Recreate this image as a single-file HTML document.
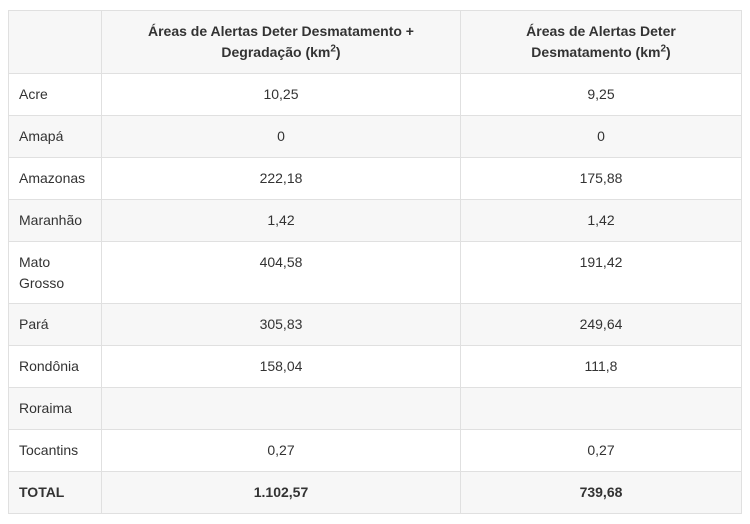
<!DOCTYPE html>
<html><head><meta charset="utf-8"><style>
html,body{margin:0;padding:0;background:#fff;width:750px;height:524px;overflow:hidden}
table{position:absolute;left:8px;top:10px;border-collapse:collapse;font-family:"Liberation Sans",sans-serif;font-size:14px;color:#333;table-layout:fixed;width:733px}
td,th{border:1px solid #e0e0e0;padding:0 10px;vertical-align:middle}
th{font-weight:bold;text-align:center;height:62px;line-height:21px}
td{height:41px;line-height:21px}
td.n{text-align:center}
tr:nth-child(odd){background:#f7f7f7}
tr.tall td{height:51px;vertical-align:top;padding-top:10px;box-sizing:content-box}
tr.total td{font-weight:bold}
sup{font-size:10px;line-height:0}
</style></head><body>
<table>
<colgroup><col style="width:93px"><col style="width:359px"><col style="width:281px"></colgroup>
<tr><th></th><th>Áreas de Alertas Deter Desmatamento +<br>Degradação (km<sup>2</sup>)</th><th>Áreas de Alertas Deter<br>Desmatamento (km<sup>2</sup>)</th></tr>
<tr><td>Acre</td><td class="n">10,25</td><td class="n">9,25</td></tr>
<tr><td>Amapá</td><td class="n">0</td><td class="n">0</td></tr>
<tr><td>Amazonas</td><td class="n">222,18</td><td class="n">175,88</td></tr>
<tr><td>Maranhão</td><td class="n">1,42</td><td class="n">1,42</td></tr>
<tr class="tall"><td>Mato<br>Grosso</td><td class="n">404,58</td><td class="n">191,42</td></tr>
<tr><td>Pará</td><td class="n">305,83</td><td class="n">249,64</td></tr>
<tr><td>Rondônia</td><td class="n">158,04</td><td class="n">111,8</td></tr>
<tr><td>Roraima</td><td class="n"></td><td class="n"></td></tr>
<tr><td>Tocantins</td><td class="n">0,27</td><td class="n">0,27</td></tr>
<tr class="total"><td>TOTAL</td><td class="n">1.102,57</td><td class="n">739,68</td></tr>
</table>
</body></html>
